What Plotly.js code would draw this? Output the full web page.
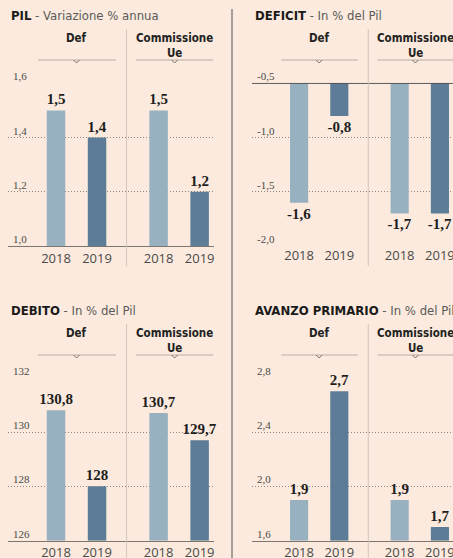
<!DOCTYPE html>
<html>
<head>
<meta charset="utf-8">
<script src="https://cdn.plot.ly/plotly-3.0.1.min.js"></script>
<style>
html,body{margin:0;padding:0;background:#fbeadd;overflow:hidden;}
#chart{width:470px;height:558px;}
</style>
</head>
<body>
<div id="chart"></div>
<script>
// ---- data ----
const years = ['2018', '2019', '2018', '2019'];
const groups = ['Def', 'Def', 'Commissione Ue', 'Commissione Ue'];
const groupLabels = ['Def', 'Commissione<br>Ue'];
const pilValues = [1.5, 1.4, 1.5, 1.2];
const deficitValues = [-1.6, -0.8, -1.7, -1.7];
const debitoValues = [130.8, 128, 130.7, 129.7];
const avanzoValues = [1.9, 2.7, 1.9, 1.7];
const pilTicks = [1.0, 1.2, 1.4, 1.6];
const deficitTicks = [-2.0, -1.5, -1.0, -0.5];
const debitoTicks = [126, 128, 130, 132];
const avanzoTicks = [1.6, 2.0, 2.4, 2.8];

// ---- layout helpers ----
const W = 470, H = 558;
const px = x => x / W;
const py = y => 1 - y / H;
const LIGHT = '#98b1c1', DARK = '#5c7c97';
const groupNames = [...new Set(groups)];
const positions = groups.map((g, i) => groupNames.indexOf(g) * 2.5 + (i % 2));
const colors = years.map(y => y === '2018' ? LIGHT : DARK);
const fmt = (v, d) => v.toFixed(d).replace('.', ',');
const lab = v => String(v).replace('.', ',');

const panels = [
  {vals: pilValues, ticks: pilTicks, dec: 1, base: pilTicks[0], ax: '', left: true, top: true,
   title: 'PIL', sub: 'Variazione % annua', baseline: 'bottom'},
  {vals: deficitValues, ticks: deficitTicks, dec: 1, base: deficitTicks[deficitTicks.length - 1], ax: '2', left: false, top: true,
   title: 'DEFICIT', sub: 'In % del Pil', baseline: 'top'},
  {vals: debitoValues, ticks: debitoTicks, dec: 0, base: debitoTicks[0], ax: '3', left: true, top: false,
   title: 'DEBITO', sub: 'In % del Pil', baseline: 'bottom'},
  {vals: avanzoValues, ticks: avanzoTicks, dec: 1, base: avanzoTicks[0], ax: '4', left: false, top: false,
   title: 'AVANZO PRIMARIO', sub: 'In % del Pil', baseline: 'bottom'}
];

const data = [];
const layout = {
  width: W, height: H,
  margin: {l: 0, r: 0, t: 0, b: 0},
  paper_bgcolor: '#fbeadd', plot_bgcolor: 'rgba(0,0,0,0)',
  showlegend: false,
  separators: ',.',
  annotations: [], shapes: []
};

const titleFont = 'DejaVu Sans Condensed, DejaVu Sans, sans-serif';
const serif = 'Liberation Serif';

panels.forEach(p => {
  const xd = p.left ? [px(8), px(214)] : [px(252), px(454)];
  const yd = p.top ? [py(246), py(82.7)] : [py(540.7), py(377)];
  const xa = 'xaxis' + p.ax, ya = 'yaxis' + p.ax;
  const xr = 'x' + p.ax, yr = 'y' + p.ax;
  const y0 = p.top ? 0 : 295; // vertical offset of panel header

  data.push({
    type: 'bar', xaxis: xr, yaxis: yr,
    x: positions,
    y: p.vals.map(v => v - p.base),
    base: p.base,
    width: 0.45,
    marker: {color: colors, line: {width: 0}},
    text: p.vals.map(lab),
    textposition: 'outside',
    cliponaxis: false,
    constraintext: 'none',
    textfont: {family: serif, size: 15, color: '#1e1e1e', weight: 'bold'},
    hoverinfo: 'skip'
  });

  const lo = p.ticks[0], hi = p.ticks[p.ticks.length - 1];
  const pad = (hi - lo) * 0.004;
  layout[xa] = {
    domain: xd, anchor: yr, range: [-1.17, 3.85],
    tickvals: positions, ticktext: years,
    showgrid: false, zeroline: false,
    showline: p.baseline === 'bottom', linecolor: '#7c7670', linewidth: 1,
    ticks: '', tickfont: {family: 'Open Sans, sans-serif', size: 13, color: '#4a4a4a'},
    fixedrange: true
  };
  layout[ya] = {
    domain: yd, anchor: xr, range: [lo, hi + pad],
    tickvals: p.ticks,
    showgrid: true, gridcolor: '#8f877f', griddash: '1px,2px', gridwidth: 1,
    zeroline: false, showline: false, ticks: '', showticklabels: false,
    fixedrange: true
  };

  // tick labels sitting just above their gridlines
  p.ticks.forEach(t => {
    layout.annotations.push({
      xref: xr + ' domain', yref: yr, x: 0.015, y: t,
      xanchor: 'left', yanchor: 'bottom', yshift: -1, showarrow: false,
      text: fmt(t, p.dec),
      font: {family: serif, size: 11, color: '#4a4a4a'}
    });
  });

  if (p.baseline === 'top') {
    layout.shapes.push({type: 'line', xref: xr + ' domain', yref: yr, x0: 0, x1: 1, y0: p.base, y1: p.base,
      line: {color: '#4a4a4a', width: 1}});
  }

  // panel title
  layout.annotations.push({
    xref: 'paper', yref: 'paper', x: p.left ? px(9) : px(252.5), y: py(15.7 + y0),
    xanchor: 'left', yanchor: 'middle', showarrow: false,
    text: '<b><span style="color:#1a1a1a">' + p.title + '</span></b><span style="color:#5a5a5a"> - ' + p.sub + '</span>',
    font: {family: titleFont, size: 13, color: '#5a5a5a'}
  });

  // group headers, brackets, chevrons
  const centers = [0.5, 2.89];
  const spans = [[-0.44, 1.46], [1.95, 3.83]];
  groupLabels.forEach((g, gi) => {
    layout.annotations.push({
      xref: xr, yref: 'paper', x: centers[gi], y: py(29 + y0),
      xanchor: 'center', yanchor: 'top', showarrow: false, text: '<b>' + g + '</b>',
      font: {family: titleFont, size: 11.5, color: '#222'}
    });
    const by = py(60 + y0);
    layout.shapes.push({type: 'line', xref: xr, yref: 'paper', x0: spans[gi][0], x1: spans[gi][1], y0: by, y1: by,
      line: {color: '#b8aea4', width: 1}});
    layout.shapes.push({type: 'path', xref: xr, yref: 'paper', xsizemode: 'pixel', ysizemode: 'pixel',
      xanchor: centers[gi], yanchor: by, path: 'M-3,0 L0,-3 L3,0',
      line: {color: '#7a7068', width: 1}});
  });
  // divider between groups
  layout.shapes.push({type: 'line', xref: xr, yref: 'paper', x0: 1.72, x1: 1.72,
    y0: p.top ? py(29) : py(324), y1: p.top ? py(266) : 0,
    line: {color: '#d2c6ba', width: 1}});
});

// divider between left and right panels
layout.shapes.push({type: 'line', xref: 'paper', yref: 'paper', x0: px(232), x1: px(232), y0: py(9), y1: 0,
  line: {color: '#8a8580', width: 1.5}});

Plotly.newPlot('chart', data, layout, {displayModeBar: false, staticPlot: true});
</script>
</body>
</html>
